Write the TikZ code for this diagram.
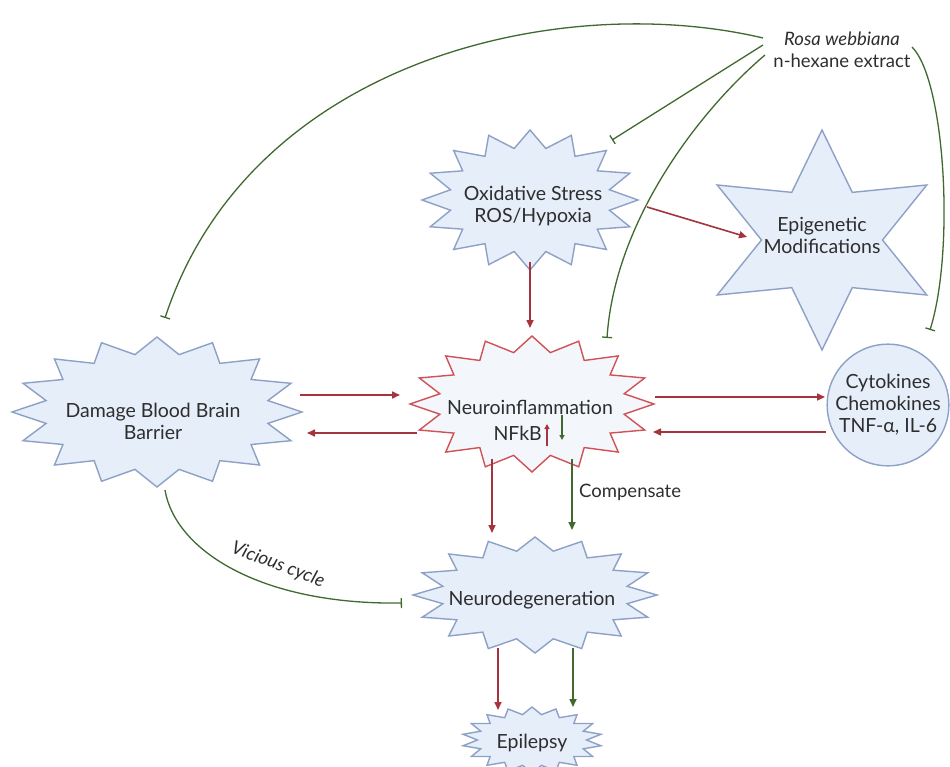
\documentclass[tikz,border=0pt]{standalone}
\usepackage{fontspec}
\setmainfont{Lato}
\usetikzlibrary{arrows.meta,calc}
\definecolor{starfill}{HTML}{E6EEF9}
\definecolor{inflfill}{HTML}{F3F6FB}
\definecolor{starline}{HTML}{8DA1C6}
\definecolor{inflline}{HTML}{CF5257}
\definecolor{redarr}{HTML}{A5343F}
\definecolor{grn}{HTML}{41692F}
\definecolor{txt}{HTML}{2E2E2E}
\tikzset{
  burst/.style={fill=starfill, draw=starline, line width=1.4pt, line join=miter},
  inflburst/.style={fill=inflfill, draw=inflline, line width=1.4pt, line join=miter},
  lbl/.style={text=txt, font=\fontsize{19.5}{22}\selectfont, align=center, inner sep=0pt},
  act/.style={draw=redarr, line width=1.6pt, -{Triangle[length=8pt,width=7pt]}},
  gact/.style={draw=grn, line width=1.6pt, -{Triangle[length=8pt,width=7pt]}},
  inhib/.style={draw=grn, line width=1.3pt, -{Bar[width=10pt,line width=1.3pt]}},
  small/.style={text=txt, font=\fontsize{18.5}{21}\selectfont, inner sep=0pt},
}
% style, cx, cy, rx, ry, ratio, npts, samples (=2n+1)
\newcommand\sburst[8][burst]{%
  \draw[#1] plot[samples=#8, domain=0:2*#7, variable=\t]
   ({#2+ifthenelse(mod(round(\t),2)==0,1,#6)*#4*cos(90+\t*180/#7)},
    {#3+ifthenelse(mod(round(\t),2)==0,1,#6)*#5*sin(90+\t*180/#7)}) -- cycle;}
\begin{document}
\begin{tikzpicture}[x=1pt,y=-1pt]
\useasboundingbox[fill=white] (0,0) rectangle (950,767);
% shapes
\sburst{530}{200}{108}{70}{0.75}{16}{33}
\sburst[inflburst]{532}{404}{122}{68}{0.77}{16}{33}
\sburst{157}{412}{145}{75}{0.78}{16}{33}
\sburst{535}{595}{122}{58}{0.77}{16}{33}
\sburst{532}{740}{70}{33}{0.78}{18}{37}
\sburst{822}{240}{121}{110}{0.5}{6}{13}
% nodes
\node[lbl, font=\fontsize{18.5}{22}\selectfont] (rosa) at (842,50) {\textit{Rosa webbiana}\\n-hexane extract};
\node[lbl] (ox) at (533,206) {Oxidative Stress\\ROS/Hypoxia};
\node[lbl] (epi) at (822,235) {Epigenetic\\Modifications};
\node[lbl] (bbb) at (153,421) {Damage Blood Brain\\Barrier};
\node[lbl] (neuro) at (530,407) {Neuroinflammation};
\node[lbl, anchor=east] (nfkb) at (542,433) {NFkB};
\node[lbl, circle, fill=starfill, draw=starline, line width=1.4pt, minimum size=120pt] (cyto) at (888,405) {Cytokines\\Chemokines\\TNF-α, IL-6};
\node[lbl] (deg) at (532,600) {Neurodegeneration};
\node[lbl] (epil) at (532,743) {Epilepsy};
\node[small, anchor=west] (comp) at (579,492) {Compensate};
% red activations
\draw[act] ($(ox.center)+(-3,56)$) -- ($(neuro.center)+(0,-79)$);
\draw[act] ($(ox.center)+(114,1)$) -- ($(epi.center)+(-75,2)$);
\draw[act] ($(bbb.center)+(147,-26)$) -- ($(neuro.center)+(-130,-12)$);
\draw[act] ($(neuro.center)+(-113,26)$) -- ($(bbb.center)+(154,12)$);
\draw[act] ($(neuro.center)+(125,-10)$) -- ($(cyto.center)+(-63,-8)$);
\draw[act] ($(cyto.center)+(-62,27)$) -- ($(neuro.center)+(123,25)$);
\draw[act] ($(neuro.center)+(-38,52)$) -- ($(deg.center)+(-40,-67)$);
\draw[gact] ($(neuro.center)+(42,52)$) -- ($(deg.center)+(40,-70)$);
\draw[act] ($(deg.center)+(-34,48)$) -- ($(epil.center)+(-34,-33)$);
\draw[gact] ($(deg.center)+(41,48)$) -- ($(epil.center)+(41,-36)$);
% NFkB arrows
\draw[act, line width=1.3pt, -{Triangle[length=5pt,width=5pt]}] ($(nfkb.east)+(5,13)$) -- ($(nfkb.east)+(5,-9)$);
\draw[gact, line width=1.3pt, -{Triangle[length=5pt,width=5pt]}] ($(nfkb.east)+(20,-18)$) -- ($(nfkb.east)+(20,7)$);
% inhibitions
\draw[inhib] ($(rosa.center)+(-79,-12)$) .. controls (560,-10) and (250,60) .. ($(bbb.center)+(12,-103)$);
\draw[inhib] ($(rosa.center)+(-79,-5)$) -- ($(ox.center)+(79,-66)$);
\draw[inhib] ($(rosa.center)+(-77,5)$) .. controls (700,110) and (615,220) .. ($(neuro.center)+(77,-69)$);
\draw[inhib] ($(rosa.center)+(70,-3)$) .. controls (945,80) and (955,250) .. ($(cyto.center)+(42,-75)$);
\draw[inhib] ($(bbb.center)+(12,69)$) .. controls (175,550) and (260,605) .. ($(deg.center)+(-130,3)$);
\node[small, rotate=-21, font=\fontsize{18.5}{21}\selectfont\itshape] (vic) at (278,565) {Vicious cycle};
\end{tikzpicture}
\end{document}
